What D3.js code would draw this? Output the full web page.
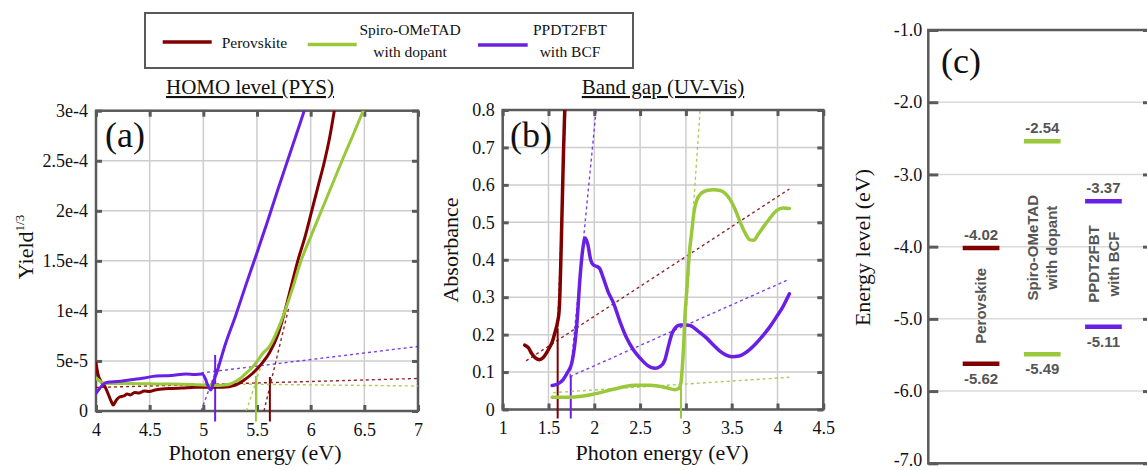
<!DOCTYPE html>
<html>
<head>
<meta charset="utf-8">
<script src="https://cdn.jsdelivr.net/npm/d3@7"></script>
<style>
  html, body { margin: 0; padding: 0; background: #fff; }
  svg { display: block; }
  text { font-family: "Liberation Serif", serif; fill: #111; }
  text.sans { font-family: "Liberation Sans", Arial, sans-serif; font-weight: bold; fill: #555; }
</style>
</head>
<body>
<svg id="chart" width="1147" height="470"></svg>
<script>
// ---- data ----
const legendNames = [["Perovskite"], ["Spiro-OMeTAD", "with dopant"], ["PPDT2FBT", "with BCF"]];
const colors = ["#800000", "#99c83a", "#6a1fe4"];

// (a) photoelectron yield spectroscopy, Yield^(1/3) vs photon energy
const pysPerovskite = [[4.00,4.8e-5],[4.02,3.6e-5],[4.05,2.9e-5],[4.08,2.5e-5],[4.11,1.8e-5],[4.14,1.0e-5],[4.16,0.6e-5],[4.19,1.1e-5],[4.22,1.4e-5],[4.26,1.5e-5],[4.29,1.7e-5],[4.32,1.6e-5],[4.36,1.85e-5],[4.40,1.8e-5],[4.45,2.0e-5],[4.50,1.95e-5],[4.55,2.1e-5],[4.62,2.2e-5],[4.70,2.25e-5],[4.80,2.3e-5],[4.93,2.37e-5],[5.05,2.37e-5],[5.18,2.37e-5],[5.30,2.6e-5],[5.38,3.1e-5],[5.46,3.77e-5],[5.55,4.8e-5],[5.62,5.9e-5],[5.70,7.8e-5],[5.76,1.0e-4],[5.82,1.25e-4],[5.88,1.5e-4],[5.95,1.75e-4],[6.01,2.0e-4],[6.07,2.25e-4],[6.13,2.5e-4],[6.18,2.75e-4],[6.22,3.0e-4]];
const pysSpiro = [[4.00,3.3e-5],[4.05,2.9e-5],[4.10,2.75e-5],[4.30,2.75e-5],[4.60,2.7e-5],[4.90,2.65e-5],[5.10,2.55e-5],[5.20,2.6e-5],[5.25,2.7e-5],[5.30,2.95e-5],[5.35,3.3e-5],[5.40,3.8e-5],[5.45,4.3e-5],[5.49,4.8e-5],[5.55,5.7e-5],[5.62,6.5e-5],[5.70,8.3e-5],[5.76,1.0e-4],[5.83,1.22e-4],[5.91,1.5e-4],[6.00,1.74e-4],[6.10,2.0e-4],[6.20,2.26e-4],[6.30,2.52e-4],[6.40,2.77e-4],[6.49,3.0e-4]];
const pysPpdt = [[4.00,1.77e-5],[4.03,2.2e-5],[4.06,2.6e-5],[4.12,2.9e-5],[4.20,2.95e-5],[4.31,3.1e-5],[4.45,3.3e-5],[4.56,3.5e-5],[4.70,3.55e-5],[4.84,3.7e-5],[4.92,3.65e-5],[4.99,3.7e-5],[5.02,3.2e-5],[5.04,2.6e-5],[5.07,2.1e-5],[5.10,3.1e-5],[5.13,4.0e-5],[5.20,6.5e-5],[5.30,9.5e-5],[5.40,1.27e-4],[5.50,1.58e-4],[5.60,1.9e-4],[5.70,2.23e-4],[5.80,2.55e-4],[5.90,2.87e-4],[5.94,3.0e-4]];
const pysFitBase = [[[4.0,2.35e-5],[7.0,3.25e-5]], [[5.2,2.7e-5],[7.0,2.5e-5]], [[4.98,3.8e-5],[7.0,6.45e-5]]];
const pysFitSteep = [[[5.565,0],[5.80,1.05e-4]], [[5.40,0],[5.56,5.2e-5]], [[4.98,0],[5.16,5.3e-5]]];
const pysOnset = [5.62, 5.49, 5.11];
const pysOnsetTop = [3.4e-5, 3.5e-5, 5.6e-5];
const pysOnsetBottom = -1.05e-5;

// (b) UV-Vis absorbance vs photon energy
const uvPerovskite = [[1.24,0.172],[1.28,0.165],[1.32,0.148],[1.36,0.137],[1.40,0.133],[1.44,0.138],[1.48,0.152],[1.51,0.165],[1.54,0.18],[1.57,0.205],[1.60,0.235],[1.615,0.26],[1.626,0.32],[1.635,0.40],[1.645,0.5],[1.655,0.6],[1.665,0.7],[1.675,0.78],[1.685,0.85]];
const uvSpiro = [[1.54,0.033],[1.74,0.033],[1.99,0.041],[2.21,0.054],[2.43,0.065],[2.61,0.065],[2.79,0.058],[2.88,0.053],[2.92,0.056],[2.945,0.07],[2.96,0.11],[2.975,0.17],[2.99,0.25],[3.01,0.32],[3.035,0.41],[3.066,0.48],[3.09,0.53],[3.12,0.56],[3.17,0.578],[3.23,0.585],[3.30,0.587],[3.375,0.585],[3.43,0.577],[3.48,0.562],[3.54,0.533],[3.59,0.502],[3.65,0.47],[3.70,0.453],[3.74,0.452],[3.79,0.468],[3.85,0.489],[3.92,0.512],[3.99,0.531],[4.06,0.538],[4.13,0.537]];
const uvPpdt = [[1.54,0.064],[1.60,0.068],[1.66,0.08],[1.71,0.1],[1.754,0.124],[1.78,0.16],[1.81,0.23],[1.845,0.355],[1.875,0.43],[1.90,0.458],[1.93,0.44],[1.96,0.40],[1.99,0.386],[2.03,0.382],[2.06,0.376],[2.10,0.35],[2.15,0.315],[2.21,0.284],[2.28,0.235],[2.355,0.19],[2.43,0.158],[2.50,0.137],[2.58,0.118],[2.664,0.110],[2.72,0.115],[2.77,0.132],[2.81,0.17],[2.85,0.204],[2.90,0.222],[2.94,0.226],[3.00,0.226],[3.05,0.224],[3.14,0.208],[3.23,0.19],[3.30,0.172],[3.375,0.155],[3.44,0.145],[3.50,0.141],[3.58,0.143],[3.67,0.155],[3.76,0.175],[3.85,0.2],[3.92,0.222],[3.99,0.248],[4.06,0.275],[4.13,0.309]];
const uvFitBase = [[[1.255,0.13],[4.13,0.589]], [[1.55,0.045],[4.13,0.086]], [[1.735,0.088],[4.13,0.348]]];
const uvFitSteep = [[[1.60,0.22],[1.69,0.82]], [[2.95,0.07],[3.155,0.8]], [[1.735,0.088],[2.02,0.8]]];
const uvOnset = [1.60, 2.946, 1.743];
const uvOnsetTop = [0.217, 0.075, 0.09];
const uvOnsetBottom = -0.024;

// (c) energy levels
const materials = ["Perovskite", "Spiro-OMeTAD", "PPDT2FBT"];
const materialLines = [["Perovskite"], ["Spiro-OMeTAD", "with dopant"], ["PPDT2FBT", "with BCF"]];
const lumo = [-4.02, -2.54, -3.37];
const homo = [-5.62, -5.49, -5.11];

// ticks
const pysXTicks = [4, 4.5, 5, 5.5, 6, 6.5, 7];
const pysXLabels = ["4", "4.5", "5", "5.5", "6", "6.5", "7"];
const pysYTicks = [0, 5e-5, 1e-4, 1.5e-4, 2e-4, 2.5e-4, 3e-4];
const pysYLabels = ["0", "5e-5", "1e-4", "1.5e-4", "2e-4", "2.5e-4", "3e-4"];
const uvXTicks = [1, 1.5, 2, 2.5, 3, 3.5, 4, 4.5];
const uvXLabels = ["1", "1.5", "2", "2.5", "3", "3.5", "4", "4.5"];
const uvYTicks = [0, 0.1, 0.2, 0.3, 0.4, 0.5, 0.6, 0.7, 0.8];
const uvYLabels = ["0", "0.1", "0.2", "0.3", "0.4", "0.5", "0.6", "0.7", "0.8"];
const levelTicks = [-7, -6, -5, -4, -3, -2, -1];
const levelLabels = ["-7.0", "-6.0", "-5.0", "-4.0", "-3.0", "-2.0", "-1.0"];

// ---- drawing ----
const svg = d3.select("#chart");
const frameColor = "#5a5a5a";
const serif = "'Liberation Serif', serif";
const sans = "'Liberation Sans', Arial, sans-serif";

const styleAxis = (a) => {
    a.select(".domain").remove();
    a.attr("font-size", 18);
    a.selectAll("line").attr("stroke", frameColor).attr("stroke-width", 3);
    a.selectAll("text").attr("fill", "#111").style("font-family", serif);
};

function makePanel(p, id) {
    const x = d3.scaleLinear().domain(p.xDomain).range([p.left, p.right]);
    const y = d3.scaleLinear().domain(p.yDomain).range([p.bottom, p.top]);
    const g = svg.append("g");

    g.append("g").selectAll("line").data(p.xTicks).join("line")
        .attr("x1", d => x(d)).attr("x2", d => x(d))
        .attr("y1", p.top).attr("y2", p.bottom)
        .attr("stroke", "#cdcdcd").attr("stroke-width", 1.5);
    g.append("g").selectAll("line").data(p.yTicks).join("line")
        .attr("x1", p.left).attr("x2", p.right)
        .attr("y1", d => y(d)).attr("y2", d => y(d))
        .attr("stroke", "#cdcdcd").attr("stroke-width", 1.5);

    g.append("g").attr("transform", `translate(0,${p.bottom})`)
        .call(d3.axisBottom(x).tickValues(p.xTicks).tickFormat((d, i) => p.xLabels[i])
            .tickSizeInner(-6).tickSizeOuter(0).tickPadding(p.xPad))
        .call(styleAxis);
    g.append("g").attr("transform", `translate(0,${p.top})`)
        .call(d3.axisTop(x).tickValues(p.xTicks).tickFormat("").tickSizeInner(-6).tickSizeOuter(0))
        .call(styleAxis);
    g.append("g").attr("transform", `translate(${p.left},0)`)
        .call(d3.axisLeft(y).tickValues(p.yTicks).tickFormat((d, i) => p.yLabels[i])
            .tickSizeInner(-6).tickSizeOuter(0).tickPadding(8))
        .call(styleAxis);
    g.append("g").attr("transform", `translate(${p.right},0)`)
        .call(d3.axisRight(y).tickValues(p.yTicks).tickFormat("").tickSizeInner(-6).tickSizeOuter(0))
        .call(styleAxis);

    g.append("rect")
        .attr("x", p.left).attr("y", p.top)
        .attr("width", p.right - p.left).attr("height", p.bottom - p.top)
        .attr("fill", "none").attr("stroke", frameColor).attr("stroke-width", 2.5);

    svg.append("clipPath").attr("id", id).append("rect")
        .attr("x", p.left).attr("y", p.top)
        .attr("width", p.right - p.left).attr("height", p.bottom - p.top);

    const plot = svg.append("g").attr("clip-path", `url(#${id})`);
    return { x, y, g, plot };
}

function drawSpectra(panel, curves, fitBase, fitSteep, onset, onsetTop, onsetBottom, order, lw) {
    const { x, y, plot } = panel;
    const line = d3.line().x(d => x(d[0])).y(d => y(d[1]));
    const smooth = d3.line().x(d => x(d[0])).y(d => y(d[1])).curve(d3.curveMonotoneX);

    [fitBase, fitSteep].forEach(fits => {
        plot.append("g").selectAll("path").data(fits).join("path")
            .attr("d", d => line(d))
            .attr("fill", "none")
            .attr("stroke", (d, i) => colors[i])
            .attr("stroke-width", 1.4)
            .attr("stroke-dasharray", "3,3")
            .attr("opacity", 0.85);
    });

    order.forEach(i => {
        plot.append("path")
            .datum(curves[i])
            .attr("d", smooth)
            .attr("fill", "none")
            .attr("stroke", colors[i])
            .attr("stroke-width", lw)
            .attr("stroke-linejoin", "round")
            .attr("stroke-linecap", "round");
    });

    panel.g.append("g").selectAll("line").data(onset).join("line")
        .attr("x1", d => x(d)).attr("x2", d => x(d))
        .attr("y1", (d, i) => y(onsetTop[i])).attr("y2", y(onsetBottom))
        .attr("stroke", (d, i) => colors[i])
        .attr("stroke-width", 2);
}

// (a)
const pa = makePanel({
    left: 96, right: 418, top: 110.7, bottom: 411,
    xDomain: [4, 7], yDomain: [0, 3e-4],
    xTicks: pysXTicks, xLabels: pysXLabels, yTicks: pysYTicks, yLabels: pysYLabels, xPad: 12
}, "clipA");
drawSpectra(pa, [pysPerovskite, pysSpiro, pysPpdt], pysFitBase, pysFitSteep,
    pysOnset, pysOnsetTop, pysOnsetBottom, [0, 1, 2], 3);

// (b)
const pb = makePanel({
    left: 502.7, right: 823.3, top: 110, bottom: 409.5,
    xDomain: [1, 4.5], yDomain: [0, 0.8],
    xTicks: uvXTicks, xLabels: uvXLabels, yTicks: uvYTicks, yLabels: uvYLabels, xPad: 12
}, "clipB");
drawSpectra(pb, [uvPerovskite, uvSpiro, uvPpdt], uvFitBase, uvFitSteep,
    uvOnset, uvOnsetTop, uvOnsetBottom, [0, 2, 1], 3.5);

// titles and axis labels
svg.append("text").attr("x", 250).attr("y", 94).attr("text-anchor", "middle")
    .attr("font-size", 21).style("text-decoration", "underline").text("HOMO level (PYS)");
svg.append("text").attr("x", 663).attr("y", 94).attr("text-anchor", "middle")
    .attr("font-size", 21).style("text-decoration", "underline").text("Band gap (UV-Vis)");
svg.append("text").attr("x", 255).attr("y", 460).attr("text-anchor", "middle")
    .attr("font-size", 22).text("Photon energy (eV)");
svg.append("text").attr("x", 662).attr("y", 460).attr("text-anchor", "middle")
    .attr("font-size", 22).text("Photon energy (eV)");

const yieldLabel = svg.append("text").attr("transform", "translate(33,247) rotate(-90)")
    .attr("text-anchor", "middle").attr("font-size", 22);
yieldLabel.append("tspan").text("Yield");
yieldLabel.append("tspan").attr("font-size", 13).attr("dy", -9).text("1/3");

svg.append("text").attr("transform", "translate(458,250) rotate(-90)")
    .attr("text-anchor", "middle").attr("font-size", 22).text("Absorbance");

svg.append("text").attr("x", 105).attr("y", 147).attr("font-size", 36).text("(a)");
svg.append("text").attr("x", 510).attr("y", 147).attr("font-size", 36).text("(b)");

// (c) energy levels
const cLeft = 928.3, cRight = 1153, cTop = 30, cBottom = 463.3;
const yE = d3.scaleLinear().domain([-7, -1]).range([cBottom, cTop]);
const xE = d3.scaleBand().domain(materials).range([962.7, 1121.8]).paddingInner(0.4).paddingOuter(0);
const gc = svg.append("g");

gc.append("g").selectAll("line").data(levelTicks).join("line")
    .attr("x1", cLeft).attr("x2", cRight)
    .attr("y1", d => yE(d)).attr("y2", d => yE(d))
    .attr("stroke", "#dadada").attr("stroke-width", 1.5);
gc.append("g").attr("transform", `translate(${cLeft},0)`)
    .call(d3.axisLeft(yE).tickValues(levelTicks).tickFormat((d, i) => levelLabels[i])
        .tickSizeInner(-10).tickSizeOuter(0).tickPadding(6))
    .call(styleAxis)
    .call(a => a.selectAll(".tick text").filter(d => d === -7).attr("dy", "0.1em"));
gc.append("g").attr("transform", `translate(${cRight},0)`)
    .call(d3.axisRight(yE).tickValues(levelTicks).tickFormat("").tickSizeInner(-10).tickSizeOuter(0))
    .call(styleAxis);
gc.append("rect").attr("x", cLeft).attr("y", cTop)
    .attr("width", cRight - cLeft).attr("height", cBottom - cTop)
    .attr("fill", "none").attr("stroke", frameColor).attr("stroke-width", 2.5);

[lumo, homo].forEach((levels, k) => {
    gc.append("g").selectAll("line").data(levels).join("line")
        .attr("x1", (d, i) => xE(materials[i])).attr("x2", (d, i) => xE(materials[i]) + xE.bandwidth())
        .attr("y1", d => yE(d)).attr("y2", d => yE(d))
        .attr("stroke", (d, i) => colors[i]).attr("stroke-width", 4.5);
    gc.append("g").selectAll("text").data(levels).join("text")
        .attr("class", "sans")
        .attr("x", (d, i) => xE(materials[i]) + xE.bandwidth() / 2)
        .attr("y", d => yE(d) + (k === 0 ? -8 : 20))
        .attr("text-anchor", "middle").attr("font-size", 15)
        .text(d => d.toFixed(2));
});

materials.forEach((m, i) => {
    const cx = xE(m) + xE.bandwidth() / 2;
    const cy = yE((lumo[i] + homo[i]) / 2);
    const lines = materialLines[i];
    lines.forEach((t, j) => {
        const bx = cx + (j - (lines.length - 1) / 2) * 19.5 + 5.4;
        gc.append("text").attr("class", "sans")
            .attr("transform", `translate(${bx},${cy}) rotate(-90)`)
            .attr("text-anchor", "middle").attr("font-size", 15)
            .text(t);
    });
});

svg.append("text").attr("transform", "translate(870,247.5) rotate(-90)")
    .attr("text-anchor", "middle").attr("font-size", 22).text("Energy level (eV)");
svg.append("text").attr("x", 941).attr("y", 73).attr("font-size", 36).text("(c)");

// legend
const legend = svg.append("g");
legend.append("rect").attr("x", 145).attr("y", 13).attr("width", 488).attr("height", 55)
    .attr("fill", "#fff").attr("stroke", frameColor).attr("stroke-width", 2);
const legendPos = [
    { x1: 162.7, x2: 211.7, ly: 42, tx: 221.7, anchor: "start", ty: [48] },
    { x1: 307.7, x2: 356.7, ly: 44.5, tx: 410, anchor: "middle", ty: [34.5, 57] },
    { x1: 478, x2: 527.7, ly: 45, tx: 570, anchor: "middle", ty: [34.5, 57] }
];
legendNames.forEach((names, i) => {
    const p = legendPos[i];
    legend.append("line").attr("x1", p.x1).attr("x2", p.x2).attr("y1", p.ly).attr("y2", p.ly)
        .attr("stroke", colors[i]).attr("stroke-width", 3.5);
    names.forEach((t, j) => {
        legend.append("text").attr("x", p.tx).attr("y", p.ty[j])
            .attr("text-anchor", p.anchor).attr("font-size", 15.5).text(t);
    });
});

// font families set explicitly
svg.selectAll("text").each(function () {
    const t = d3.select(this);
    if (t.classed("sans")) t.style("font-family", sans).style("font-weight", "bold").style("fill", "#555");
    else t.style("font-family", serif);
});
</script>
</body>
</html>
